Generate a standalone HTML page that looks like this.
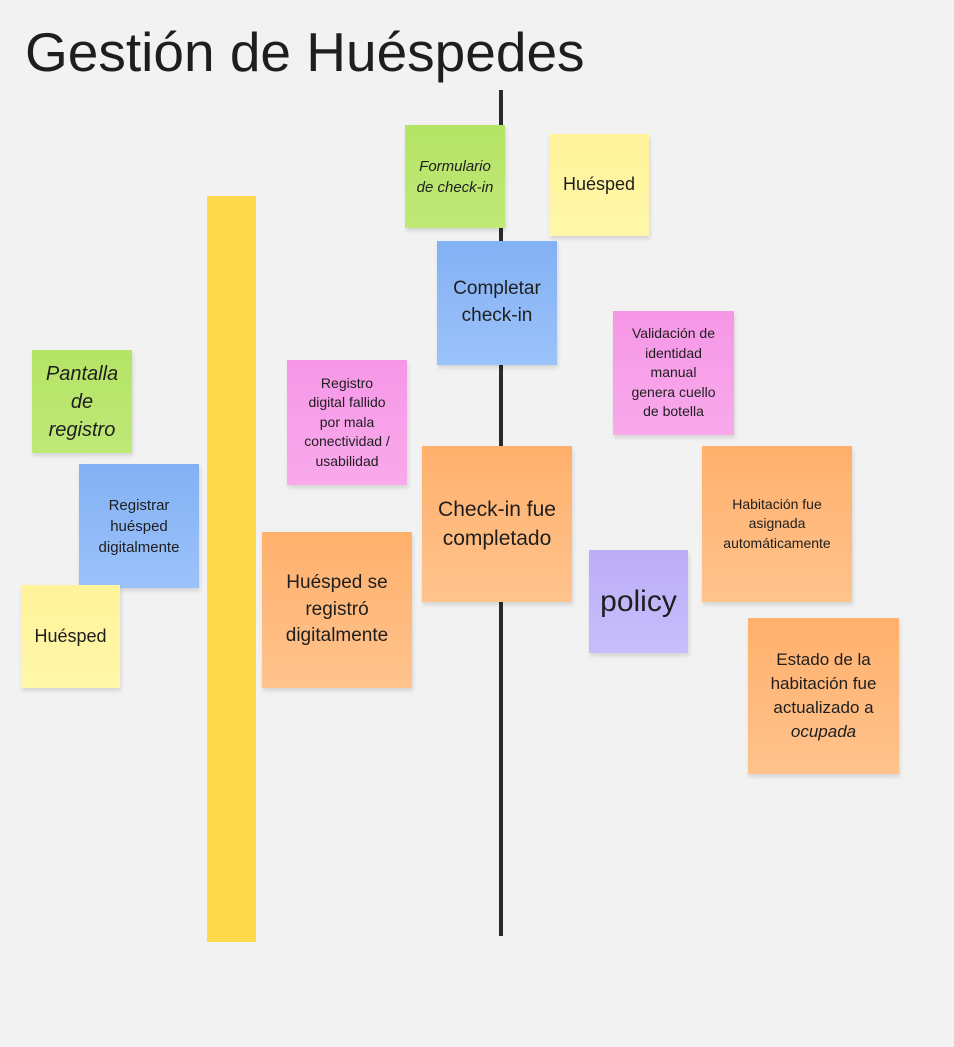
<!DOCTYPE html>
<html><head><meta charset="utf-8"><style>
body{margin:0;width:954px;height:1047px;background:#f2f2f2;position:relative;overflow:hidden;font-family:"Liberation Sans","DejaVu Sans",sans-serif;color:#1e1e1e}
.t{position:absolute;left:25px;top:20px;font-size:55px;color:#1e1e1e;white-space:nowrap}
.s{position:absolute;display:flex;align-items:center;justify-content:center;text-align:center;box-shadow:1px 3px 4px rgba(0,0,0,.12);line-height:1.4;box-sizing:border-box;padding:6px 10px}
.s span{display:block}
.g{background:linear-gradient(#b5e465,#bfe877)}
.y{background:linear-gradient(#fff49a,#fff6a8)}
.b{background:linear-gradient(#82b1f4,#9cc2fa)}
.p{background:linear-gradient(#f697e6,#f9a9ec)}
.o{background:linear-gradient(#ffb06c,#ffc38d)}
.v{background:linear-gradient(#bcadf8,#c8befb)}
i{font-style:italic}
</style></head><body>
<div class="t">Gestión de Huéspedes</div>
<div style="position:absolute;left:499px;top:90px;width:4px;height:846px;background:#2a2a2a"></div>
<div style="position:absolute;left:207px;top:196px;width:49px;height:746px;background:#ffd94c"></div>

<div class="s g" style="left:405px;top:125px;width:100px;height:103px;font-size:15px"><span><i>Formulario de check-in</i></span></div>
<div class="s y" style="left:549px;top:134px;width:100px;height:102px;font-size:18px"><span>Huésped</span></div>
<div class="s b" style="left:437px;top:241px;width:120px;height:124px;font-size:19px"><span>Completar check-in</span></div>
<div class="s p" style="left:613px;top:311px;width:121px;height:124px;font-size:14px;padding:6px 15px"><span>Validación de identidad manual genera cuello de botella</span></div>
<div class="s g" style="left:32px;top:350px;width:100px;height:103px;font-size:20px"><span><i>Pantalla de registro</i></span></div>
<div class="s p" style="left:287px;top:360px;width:120px;height:125px;font-size:14px;padding:6px 14px"><span>Registro digital fallido por mala conectividad / usabilidad</span></div>
<div class="s b" style="left:79px;top:464px;width:120px;height:124px;font-size:15px"><span>Registrar huésped digitalmente</span></div>
<div class="s o" style="left:422px;top:446px;width:150px;height:156px;font-size:21px"><span>Check-in fue completado</span></div>
<div class="s o" style="left:702px;top:446px;width:150px;height:156px;font-size:14px;padding:6px 14px"><span>Habitación fue asignada automáticamente</span></div>
<div class="s o" style="left:262px;top:532px;width:150px;height:156px;font-size:19px;padding:6px 14px"><span>Huésped se registró digitalmente</span></div>
<div class="s v" style="left:589px;top:550px;width:99px;height:103px;font-size:30px"><span>policy</span></div>
<div class="s y" style="left:21px;top:585px;width:99px;height:103px;font-size:18px"><span>Huésped</span></div>
<div class="s o" style="left:748px;top:618px;width:151px;height:156px;font-size:17px;padding:6px 12px"><span>Estado de la habitación fue actualizado a <i>ocupada</i></span></div>
</body></html>
